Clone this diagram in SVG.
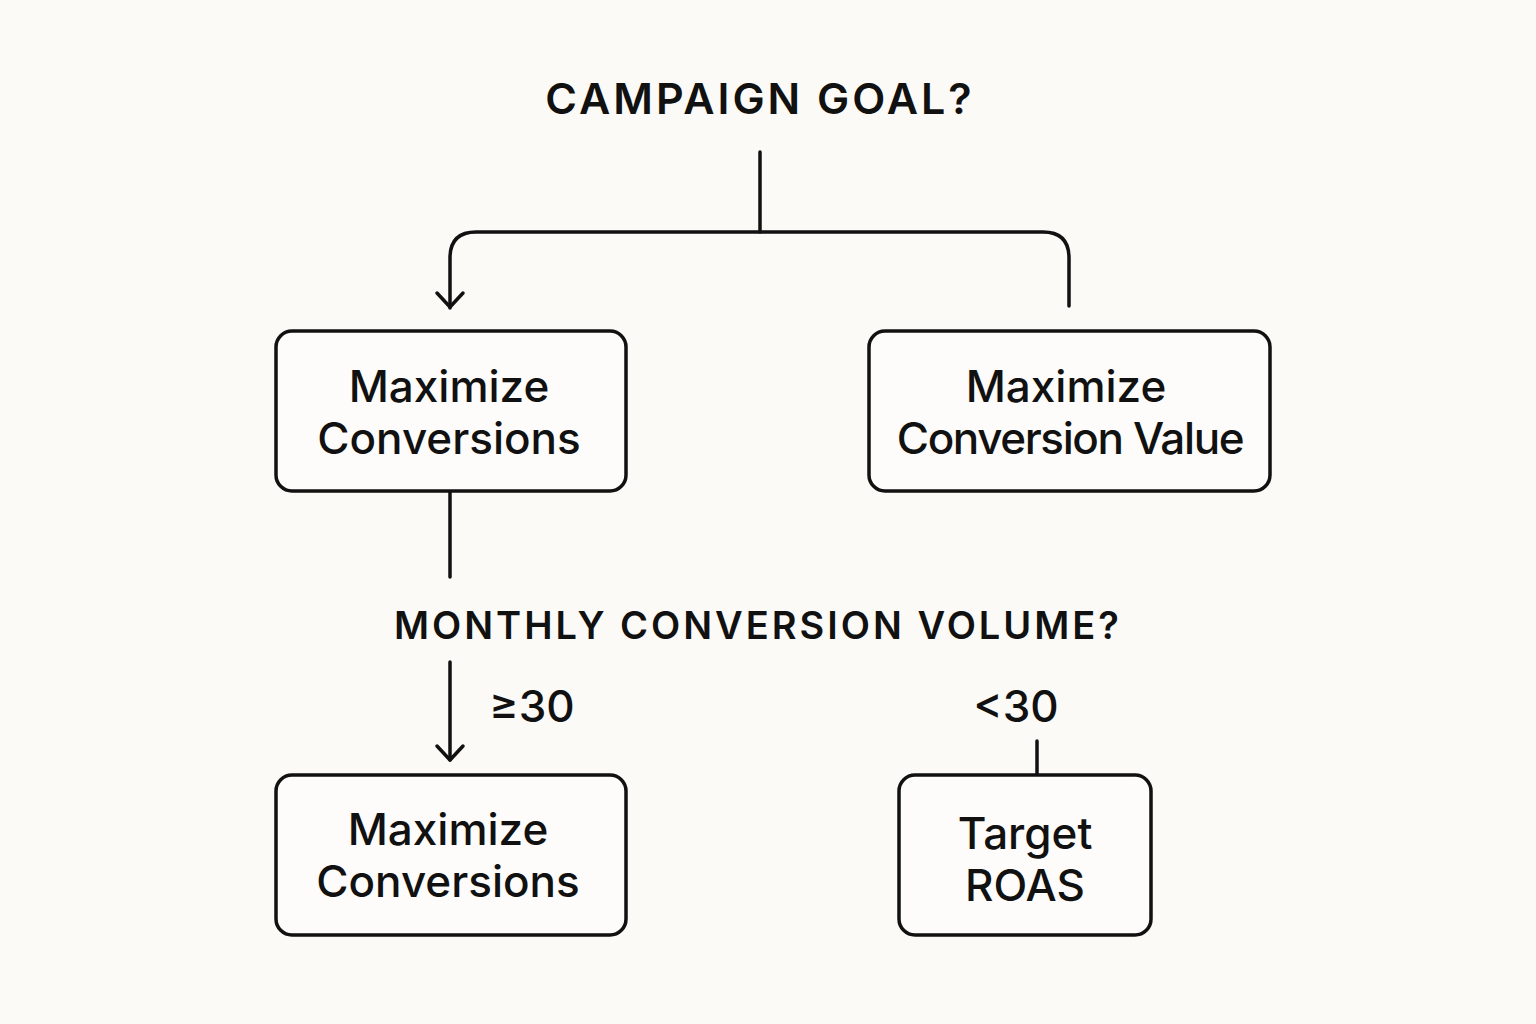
<svg xmlns="http://www.w3.org/2000/svg" width="1536" height="1024" viewBox="0 0 1536 1024">
<style>
.bg{fill:#fbfaf7}
.box{fill:#fdfcfa;stroke:#111;stroke-width:3.5}
.ln{fill:none;stroke:#111;stroke-width:3.5;stroke-linecap:round;stroke-linejoin:round}
.h{font-family:"Inter","Open Sans","Liberation Sans",sans-serif;font-weight:600;fill:#111;text-anchor:middle;letter-spacing:3px}
.t{font-family:"Inter","Open Sans","Liberation Sans",sans-serif;font-weight:500;fill:#111;text-anchor:middle;font-size:44px}
</style>
<rect class="bg" width="1536" height="1024"/>
<text class="h" x="760" y="114" font-size="43">CAMPAIGN GOAL?</text>
<g id="connectors">
<path class="ln" d="M760 152V232"/>
<path class="ln" d="M450 308V258Q450 232 476 232H1043Q1069 232 1069 258V306"/>
<path class="ln" d="M437 293L450 307L463 293"/>
<path class="ln" d="M450 491V577"/>
<path class="ln" d="M450 662V760"/>
<path class="ln" d="M437 746L450 760L463 746"/>
<path class="ln" d="M1037 741V775"/>
</g>
<text class="h" x="758" y="639" font-size="38">MONTHLY CONVERSION VOLUME?</text>
<text class="t" x="532" y="722" font-size="40">≥30</text>
<text class="t" x="1016" y="722" font-size="40">&lt;30</text>
<g id="n1"><rect class="box" x="276" y="331" width="350" height="160" rx="16"/>
<text class="t" x="449" y="402">Maximize</text><text class="t" x="449" y="454">Conversions</text></g>
<g id="n2"><rect class="box" x="869" y="331" width="401" height="160" rx="16"/>
<text class="t" x="1066" y="402">Maximize</text><text class="t" x="1070" y="454" letter-spacing="-1.4">Conversion Value</text></g>
<g id="n3"><rect class="box" x="276" y="775" width="350" height="160" rx="16"/>
<text class="t" x="448" y="845">Maximize</text><text class="t" x="448" y="897">Conversions</text></g>
<g id="n4"><rect class="box" x="899" y="775" width="252" height="160" rx="16"/>
<text class="t" x="1025" y="849">Target</text><text class="t" x="1025" y="901">ROAS</text></g>
</svg>
